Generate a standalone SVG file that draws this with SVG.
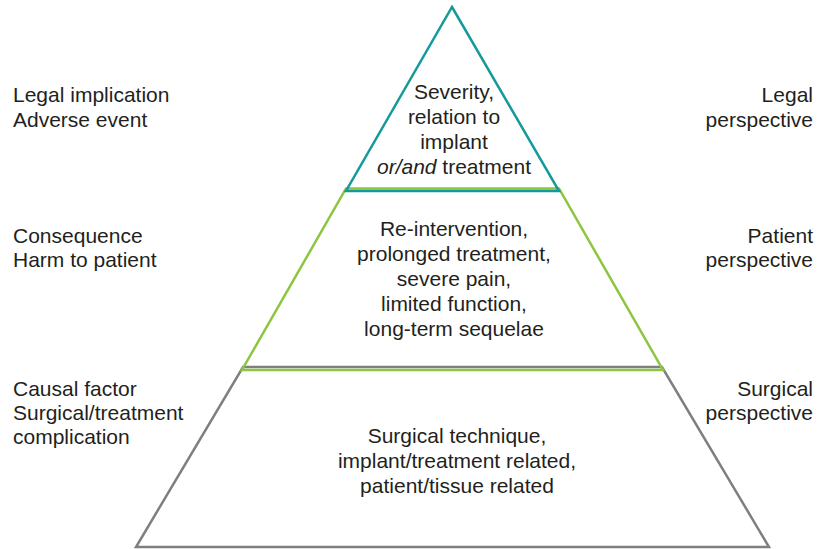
<svg xmlns="http://www.w3.org/2000/svg" width="823" height="549" viewBox="0 0 823 549">
<style>
text{font-family:"Liberation Sans",Arial,sans-serif;font-size:21px;fill:#231f20}
.c{text-anchor:middle}
.r{text-anchor:end}
.tier{fill:none;stroke-width:2.5;stroke-linejoin:miter}
.teal{stroke:#16999a}
.green{stroke:#8cc63f}
.gray{stroke:#7f7f7f}
</style>
<rect width="823" height="549" fill="#fff"/>
<g id="tier-bottom">
<polygon class="tier gray" points="243,367 662,367 769,547 136,547"/>
<text class="c" x="457" y="443">Surgical technique,</text>
<text class="c" x="457" y="468">implant/treatment related,</text>
<text class="c" x="457" y="493">patient/tissue related</text>
</g>
<g id="tier-middle">
<polygon class="tier green" points="346,188.5 559,188.5 663,370 242,370"/>
<text class="c" x="454" y="236">Re-intervention,</text>
<text class="c" x="454" y="261">prolonged treatment,</text>
<text class="c" x="454" y="286">severe pain,</text>
<text class="c" x="454" y="311">limited function,</text>
<text class="c" x="454" y="336">long-term sequelae</text>
</g>
<g id="tier-top">
<polygon class="tier teal" points="452,7 559,191 346,191"/>
<text class="c" x="454" y="98.5">Severity,</text>
<text class="c" x="454" y="123.5">relation to</text>
<text class="c" x="454" y="148.5">implant</text>
<text class="c" x="454" y="173.5"><tspan font-style="italic">or/and</tspan> treatment</text>
</g>
<g id="label-left-top">
<text x="13" y="102">Legal implication</text>
<text x="13" y="126.5">Adverse event</text>
</g>
<g id="label-left-middle">
<text x="13" y="242.5">Consequence</text>
<text x="13" y="266.5">Harm to patient</text>
</g>
<g id="label-left-bottom">
<text x="13" y="396">Causal factor</text>
<text x="13" y="420">Surgical/treatment</text>
<text x="13" y="444">complication</text>
</g>
<g id="label-right-top">
<text class="r" x="813" y="102">Legal</text>
<text class="r" x="813" y="126.5">perspective</text>
</g>
<g id="label-right-middle">
<text class="r" x="813" y="242.5">Patient</text>
<text class="r" x="813" y="266.5">perspective</text>
</g>
<g id="label-right-bottom">
<text class="r" x="813" y="396">Surgical</text>
<text class="r" x="813" y="420">perspective</text>
</g>
</svg>
